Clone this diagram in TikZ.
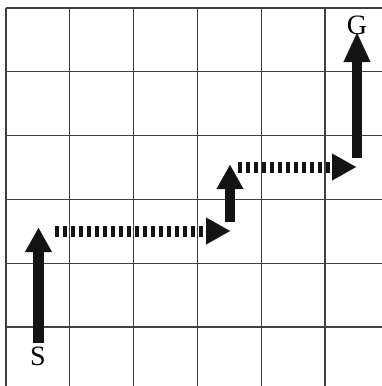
\documentclass[tikz,border=0pt]{standalone}
\usepackage{fontspec}
\setmainfont{Liberation Serif}
\usetikzlibrary{arrows.meta}
\begin{document}
\begin{tikzpicture}[x=1pt,y=-1pt,
  gridline/.style={draw=black!75,line width=1.1pt},
  shaft/.style={draw=black!92,line width=10.5pt},
  dshaft/.style={draw=black!92,line width=11pt,dash pattern=on 3.6pt off 4.4pt},
  headtip/.style={draw=black!92,line width=0.1pt,-{Triangle[width=27pt,length=24pt,fill=black!92]}},
  lbl/.style={font=\fontsize{28}{28}\selectfont,inner sep=0pt}]
\useasboundingbox (0,0) rectangle (382,386);
% grid
\foreach \i in {0,...,5}{
  \draw[gridline] ({6+63.8*\i},8) -- ({6+63.8*\i},386);
  \draw[gridline] (6,{8+63.8*\i}) -- (382,{8+63.8*\i});
}
% coordinates
\coordinate (s0) at (38.5,343);
\coordinate (s1) at (38.5,252);
\coordinate (s2) at (38.5,228);
\coordinate (d0) at (55,231);
\coordinate (d1) at (206,231);
\coordinate (d2) at (230,231);
\coordinate (u0) at (230,222);
\coordinate (u1) at (230,189);
\coordinate (u2) at (230,165);
\coordinate (e0) at (238,167);
\coordinate (e1) at (332,167);
\coordinate (e2) at (356,167);
\coordinate (g0) at (357,158);
\coordinate (g1) at (357,62);
\coordinate (g2) at (357,33);
% arrows
\draw[shaft] (s0) -- (s1);
\draw[headtip] (s1) -- (s2);
\draw[dshaft] (d0) -- (d1);
\draw[headtip] (d1) -- (d2);
\draw[shaft] (u0) -- (u1);
\draw[headtip] (u1) -- (u2);
\draw[dshaft] (e0) -- (e1);
\draw[headtip] (e1) -- (e2);
\draw[shaft] (g0) -- (g1);
\draw[headtip,-{Triangle[width=27pt,length=29pt,fill=black!92]}] (g1) -- (g2);
% labels
\node[lbl] (S) at (38,356) {S};
\node[lbl] (G) at (357,25) {G};
\end{tikzpicture}
\end{document}
